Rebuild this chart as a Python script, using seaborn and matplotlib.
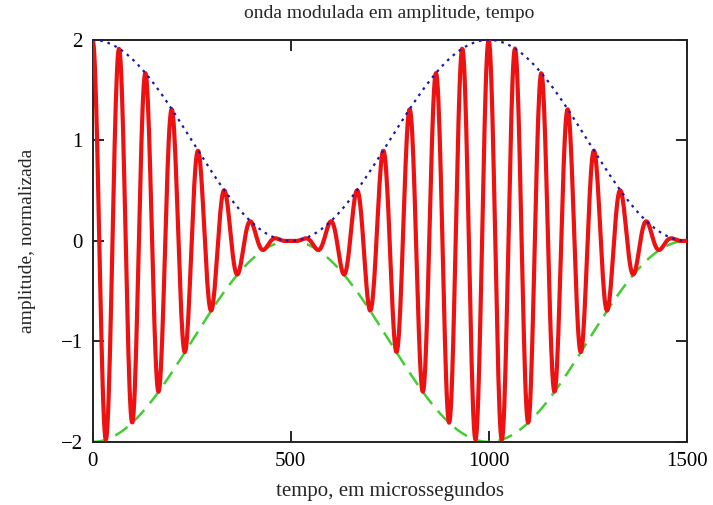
import numpy as np
import pandas as pd
import seaborn as sns
import matplotlib
matplotlib.use("Agg")
import matplotlib.pyplot as plt

### Onda modulada em amplitude ###

# parameters #
carrier_period = 1000 / 15   # microssegundos, 15 ciclos por 1000 us
mod_period = 1000            # microssegundos
t_max = 1500
x_ticks = [0, 500, 1000, 1500]
y_ticks = [-2, -1, 0, 1, 2]

t = np.linspace(0, t_max, 1001)
envelope = 1 + np.cos(2 * np.pi * t / mod_period)
signal = envelope * np.cos(2 * np.pi * t / carrier_period)

df = pd.DataFrame({"t": t, "sinal": signal, "sup": envelope, "inf": -envelope})

sns.set_style("white")
plt.rcParams["font.family"] = ["Liberation Serif", "DejaVu Serif"]

fig = plt.figure(figsize=(7.13, 5.05), dpi=100)
ax = fig.add_axes([0.130, 0.125, 0.833, 0.796])

sns.lineplot(data=df, x="t", y="sinal", ax=ax, color="#ee1111", lw=3.0, zorder=3)
sns.lineplot(data=df, x="t", y="sup", ax=ax, color="#1a1aa6", lw=1.6,
             linestyle=(0, (1.2, 2.2)), zorder=4)
sns.lineplot(data=df, x="t", y="inf", ax=ax, color="#44cc33", lw=1.8,
             linestyle=(0, (6, 3.5)), zorder=2)

ax.set_xlim(0, t_max)
ax.set_ylim(-2, 2)
ax.set_xticks(x_ticks)
ax.set_yticks(y_ticks)
ax.tick_params(direction="in", length=8, width=1.2, top=True, right=True,
               bottom=True, left=True, labelsize=15, pad=7, colors="black")
for s in ax.spines.values():
    s.set_color("#222222")
    s.set_linewidth(1.4)

ax.set_title("onda modulada em amplitude, tempo", fontsize=14, pad=16)
ax.set_xlabel("tempo, em microssegundos", fontsize=15, labelpad=8)
ax.set_ylabel("amplitude, normalizada", fontsize=14, labelpad=18)

plt.savefig("out.png", dpi=100)
